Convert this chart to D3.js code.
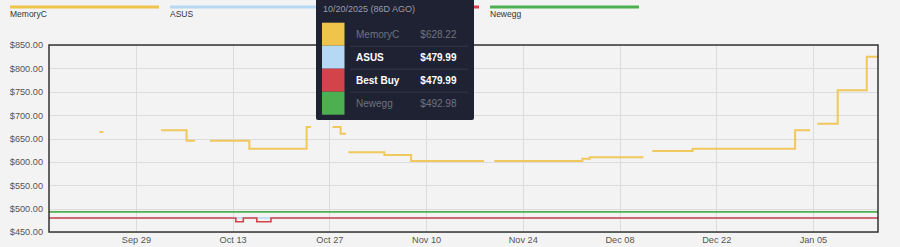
<!DOCTYPE html>
<html>
<head>
<meta charset="utf-8">
<script src="https://cdn.jsdelivr.net/npm/d3@7"></script>
<style>
  body { margin: 0; background: #f3f3f3; }
  svg { display: block; font-family: "Liberation Sans", Arial, sans-serif; }
  .grid line { stroke: #dcdcdc; stroke-width: 1; }
  .axis-label { fill: #555; font-size: 9.2px; }
</style>
</head>
<body>
<div id="main"></div>
<script>
// dimensions
const svg_width = 900,
    svg_height = 247;
const plot = {left: 49, right: 878, top: 45, bottom: 232};

// data: [timestamp, price], null = no data (gap)
const memoryC = [
    ["2025-09-23T17:00", 664], ["2025-09-24T07:00", 664], ["2025-09-24T08:00", null],
    ["2025-10-02T15:00", 667.5], ["2025-10-06T08:00", 645.3], ["2025-10-07T13:00", 645.3], ["2025-10-07T14:00", null],
    ["2025-10-09T17:00", 645], ["2025-10-15T10:00", 628.22], ["2025-10-23T17:00", 674.6], ["2025-10-24T08:00", 674.6], ["2025-10-24T09:00", null],
    ["2025-10-27T11:00", 674.6], ["2025-10-28T15:00", 660], ["2025-10-29T10:00", 660], ["2025-10-29T11:00", null],
    ["2025-10-29T18:00", 620.5], ["2025-11-03T23:00", 614.7], ["2025-11-07T20:00", 602], ["2025-11-18T09:00", 602], ["2025-11-18T10:00", null],
    ["2025-11-19T21:00", 602], ["2025-12-02T15:00", 606.5], ["2025-12-03T17:00", 610], ["2025-12-11T11:00", 610], ["2025-12-11T12:00", null],
    ["2025-12-12T18:00", 623.3], ["2025-12-18T14:00", 628.2], ["2026-01-02T10:00", 667.5], ["2026-01-04T14:00", 667.5], ["2026-01-04T15:00", null],
    ["2026-01-05T15:00", 681.7], ["2026-01-08T14:00", 753.1], ["2026-01-12T19:00", 825], ["2026-01-14T10:00", 825]
];
const asus = [
    ["2025-09-16T10:00", 479.99], ["2026-01-14T10:00", 479.99]
];
const bestBuy = [
    ["2025-09-16T10:00", 479.99], ["2025-10-13T11:00", 472], ["2025-10-14T13:00", 479.99],
    ["2025-10-16T12:00", 472], ["2025-10-18T13:00", 479.99], ["2026-01-14T10:00", 479.99]
];
const newegg = [
    ["2025-09-16T10:00", 492.98], ["2026-01-14T10:00", 492.98]
];

const seriesNames = ["MemoryC", "ASUS", "Best Buy", "Newegg"];
const seriesColors = ["#f0c34a", "#b5d8f5", "#d2444a", "#4caf50"];
const seriesData = [memoryC, asus, bestBuy, newegg];

const xDomain = ["2025-09-16T10:00", "2026-01-14T10:00"];
const xTicks = ["2025-09-29", "2025-10-13", "2025-10-27", "2025-11-10", "2025-11-24", "2025-12-08", "2025-12-22", "2026-01-05"];
const yTicks = [450, 500, 550, 600, 650, 700, 750, 800, 850];

// tooltip content
const tipTitle = "10/20/2025 (86D AGO)";
const tipValues = ["$628.22", "$479.99", "$479.99", "$492.98"];
const tipActive = [false, true, true, false];

const parse = d3.isoParse;

var svg = d3.select("#main").append("svg")
    .attr("width", svg_width)
    .attr("height", svg_height);

/** scales **/
var xScale = d3.scaleTime()
    .domain(xDomain.map(parse))
    .range([plot.left, plot.right]);
var yScale = d3.scaleLinear()
    .domain([450, 850])
    .range([plot.bottom, plot.top]);

// gridlines
var grid = svg.append("g").attr("class", "grid");
grid.selectAll(".hgrid")
    .data(yTicks)
    .enter().append("line")
    .attr("x1", plot.left).attr("x2", plot.right)
    .attr("y1", d => Math.round(yScale(d)) + 0.5)
    .attr("y2", d => Math.round(yScale(d)) + 0.5);
grid.selectAll(".vgrid")
    .data(xTicks)
    .enter().append("line")
    .attr("y1", plot.top).attr("y2", plot.bottom)
    .attr("x1", d => Math.round(xScale(parse(d))) + 0.5)
    .attr("x2", d => Math.round(xScale(parse(d))) + 0.5);

// axes (labels only)
var yAxis = svg.append("g")
    .attr("transform", `translate(${plot.left - 3},0)`)
    .call(d3.axisLeft(yScale).tickValues(yTicks).tickSize(0).tickFormat(d => "$" + d3.format(".2f")(d)));
yAxis.select(".domain").remove();
yAxis.selectAll("text").attr("class", "axis-label").attr("font-size", null).attr("font-family", null);

var xAxis = svg.append("g")
    .attr("transform", `translate(0,${plot.bottom + 1.5})`)
    .call(d3.axisBottom(xScale).tickValues(xTicks.map(parse)).tickSize(0).tickFormat(d3.timeFormat("%b %d")));
xAxis.select(".domain").remove();
xAxis.selectAll("text").attr("class", "axis-label").attr("font-size", null).attr("font-family", null);

/** lines **/
var line = d3.line()
    .defined(d => d[1] != null)
    .x(d => xScale(parse(d[0])))
    .y(d => yScale(d[1]))
    .curve(d3.curveStepAfter);

var drawOrder = [0, 3, 1, 2];
svg.append("g").selectAll("path")
    .data(drawOrder)
    .enter().append("path")
    .attr("fill", "none")
    .attr("stroke", i => seriesColors[i])
    .attr("stroke-width", i => i === 0 ? 2 : 1.6)
    .attr("opacity", i => i === 0 ? 0.9 : 1)
    .attr("d", i => line(seriesData[i]));

// plot border
svg.append("rect")
    .attr("x", plot.left).attr("y", plot.top)
    .attr("width", plot.right - plot.left)
    .attr("height", plot.bottom - plot.top)
    .attr("fill", "none")
    .attr("stroke", "#333")
    .attr("stroke-width", 1.5);

/** legend **/
var legend = svg.append("g").selectAll("g")
    .data(seriesNames)
    .enter().append("g")
    .attr("transform", (d, i) => `translate(${10 + i * 160},0)`);
legend.append("rect")
    .attr("x", 0).attr("y", 5.5)
    .attr("width", 149).attr("height", 3)
    .attr("fill", (d, i) => seriesColors[i]);
legend.append("text")
    .attr("x", 0).attr("y", 17)
    .attr("font-size", "8.5px")
    .attr("fill", "#333")
    .text(d => d);

/** tooltip **/
var tip = svg.append("g").attr("transform", "translate(316,0)");
tip.append("rect")
    .attr("x", 0).attr("y", -4)
    .attr("width", 158).attr("height", 124)
    .attr("rx", 2)
    .attr("fill", "#1f2232");
tip.append("text")
    .attr("x", 7).attr("y", 11.5)
    .attr("font-size", "9px")
    .attr("fill", "#9b9cab")
    .text(tipTitle);
var rows = tip.selectAll(".row")
    .data(seriesNames)
    .enter().append("g")
    .attr("transform", (d, i) => `translate(0,${22.7 + i * 23})`);
rows.append("rect")
    .attr("x", 6).attr("y", 0)
    .attr("width", 22.5).attr("height", 23)
    .attr("fill", (d, i) => seriesColors[i]);
rows.filter((d, i) => i > 0).append("line")
    .attr("x1", 34).attr("x2", 152)
    .attr("y1", 0.5).attr("y2", 0.5)
    .attr("stroke", "#343849");
rows.append("text")
    .attr("x", 40).attr("y", 15)
    .attr("font-size", "10px")
    .attr("font-weight", (d, i) => tipActive[i] ? "bold" : "normal")
    .attr("fill", (d, i) => tipActive[i] ? "#ffffff" : "#70737f")
    .text(d => d);
rows.append("text")
    .attr("x", 140.5).attr("y", 15)
    .attr("text-anchor", "end")
    .attr("font-size", "10px")
    .attr("font-weight", (d, i) => tipActive[i] ? "bold" : "normal")
    .attr("fill", (d, i) => tipActive[i] ? "#ffffff" : "#70737f")
    .text((d, i) => tipValues[i]);
</script>
</body>
</html>
